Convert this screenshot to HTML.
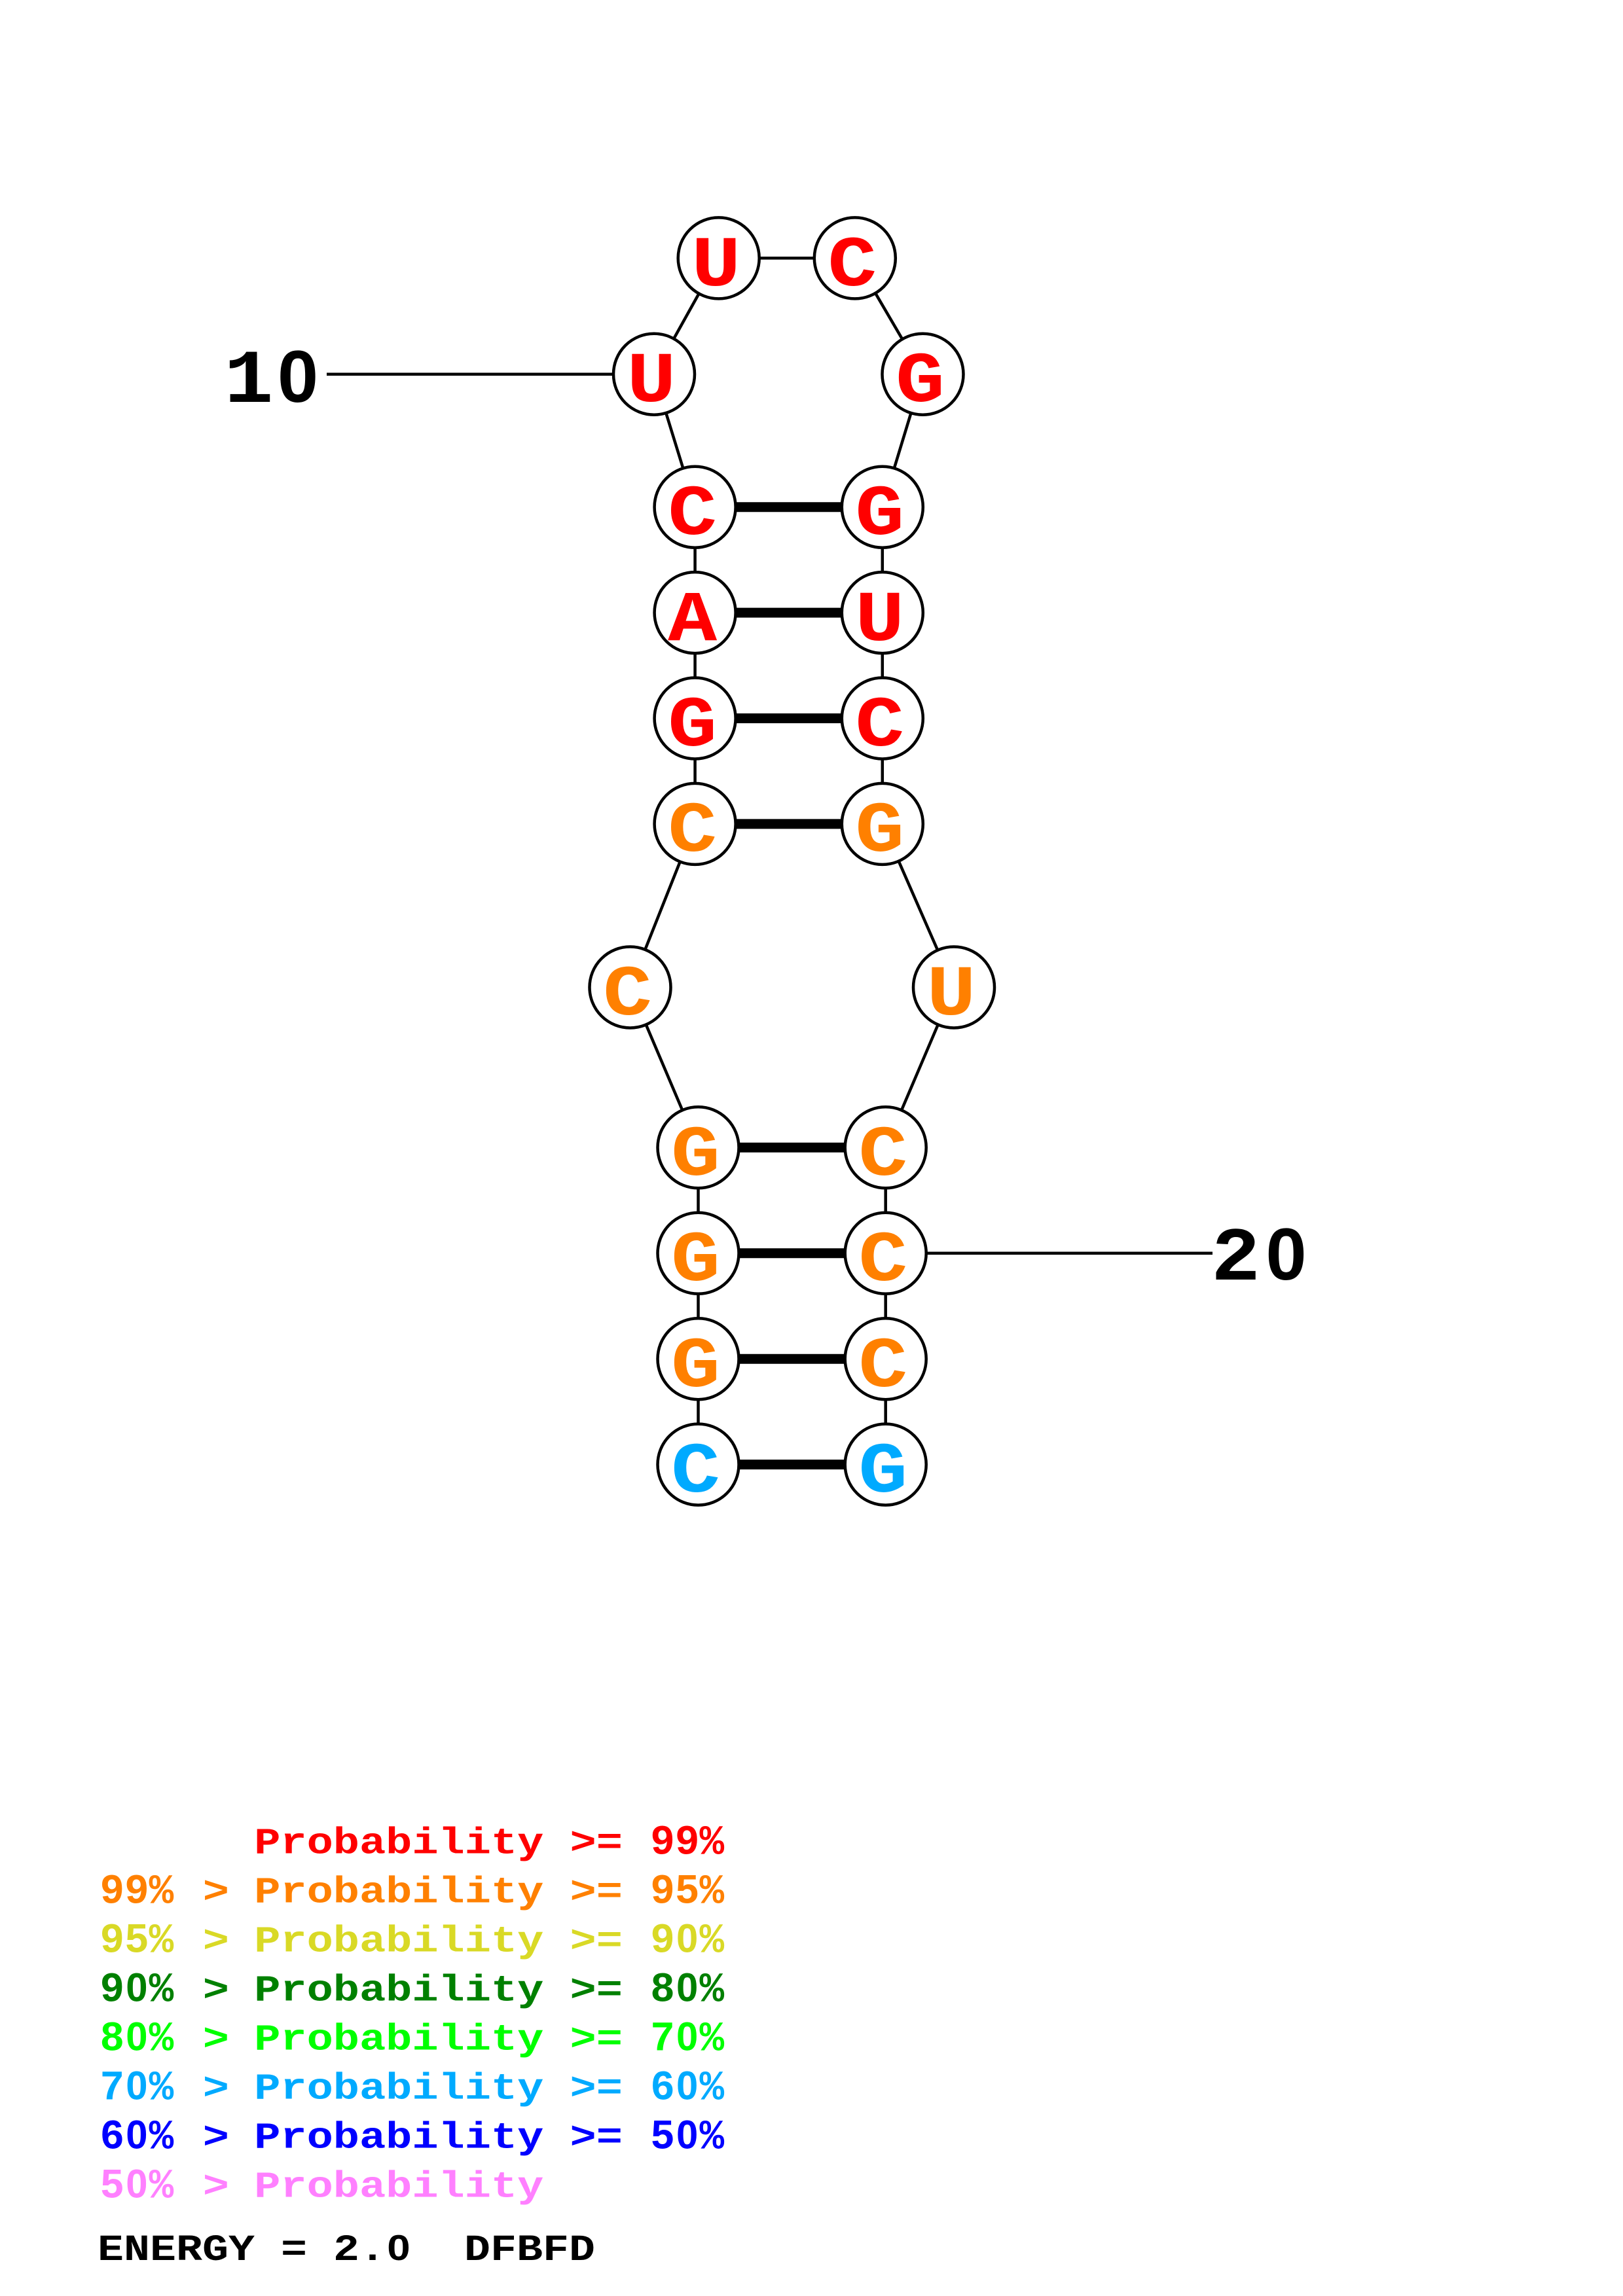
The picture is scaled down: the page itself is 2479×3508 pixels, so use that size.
<!DOCTYPE html>
<html><head><meta charset="utf-8"><style>
html,body{margin:0;padding:0;background:#fff}
svg{display:block}
text{font-family:"Liberation Mono",monospace;font-weight:bold;white-space:pre}
.n{font-size:125px;text-anchor:middle}
.s{font-family:"Liberation Sans",sans-serif;font-size:112px;text-anchor:middle}
.l{font-size:67px}
.z{font-family:"Liberation Sans",sans-serif;font-size:64px}
</style></head><body>
<svg xmlns="http://www.w3.org/2000/svg" width="2479" height="3508" viewBox="0 0 2479 3508">
<rect width="2479" height="3508" fill="#fff"/>
<g stroke="#000" stroke-width="4.5" fill="none">
<path d="M499 571.7H999L1097.7 394.4H1305.8L1409.5 571.7L1347.8 774.7V1258.9L1457 1508.5L1352.7 1753.3V2237.6"/>
<path d="M999 571.7L1061.6 774.7V1258.9L962.5 1508.5L1066.5 1753.3V2237.6"/>
<path d="M1352.7 1914.8H1852"/>
</g>
<g stroke="#000" stroke-width="15">
<path d="M1061.6 774.7H1347.8M1061.6 936.1H1347.8M1061.6 1097.5H1347.8M1061.6 1258.9H1347.8"/>
<path d="M1066.5 1753.3H1352.7M1066.5 1914.8H1352.7M1066.5 2076.2H1352.7M1066.5 2237.6H1352.7"/>
</g>
<g fill="#fff" stroke="#000" stroke-width="4.5">
<circle cx="1097.7" cy="394.4" r="62"/><circle cx="1305.8" cy="394.4" r="62"/>
<circle cx="999" cy="571.7" r="62"/><circle cx="1409.5" cy="571.7" r="62"/>
<circle cx="1061.6" cy="774.7" r="62"/><circle cx="1347.8" cy="774.7" r="62"/>
<circle cx="1061.6" cy="936.1" r="62"/><circle cx="1347.8" cy="936.1" r="62"/>
<circle cx="1061.6" cy="1097.5" r="62"/><circle cx="1347.8" cy="1097.5" r="62"/>
<circle cx="1061.6" cy="1258.9" r="62"/><circle cx="1347.8" cy="1258.9" r="62"/>
<circle cx="962.5" cy="1508.5" r="62"/><circle cx="1457" cy="1508.5" r="62"/>
<circle cx="1066.5" cy="1753.3" r="62"/><circle cx="1352.7" cy="1753.3" r="62"/>
<circle cx="1066.5" cy="1914.8" r="62"/><circle cx="1352.7" cy="1914.8" r="62"/>
<circle cx="1066.5" cy="2076.2" r="62"/><circle cx="1352.7" cy="2076.2" r="62"/>
<circle cx="1066.5" cy="2237.6" r="62"/><circle cx="1352.7" cy="2237.6" r="62"/>
</g>
<g fill="#ff0000">
<text class="n" transform="translate(1093.7 436) scale(1 .88)">U</text>
<text class="n" transform="translate(1301.8 436) scale(1 .88)">C</text>
<text class="n" transform="translate(995 613) scale(1 .88)">U</text>
<text class="n" transform="translate(1405.5 613) scale(1 .88)">G</text>
<text class="n" transform="translate(1057.6 816) scale(1 .88)">C</text>
<text class="n" transform="translate(1343.8 816) scale(1 .88)">G</text>
<text class="n" transform="translate(1057.6 978) scale(1 .88)">A</text>
<text class="n" transform="translate(1343.8 978) scale(1 .88)">U</text>
<text class="n" transform="translate(1057.6 1139) scale(1 .88)">G</text>
<text class="n" transform="translate(1343.8 1139) scale(1 .88)">C</text>
</g>
<g fill="#ff8000">
<text class="n" transform="translate(1057.6 1300) scale(1 .88)">C</text>
<text class="n" transform="translate(1343.8 1300) scale(1 .88)">G</text>
<text class="n" transform="translate(958.5 1550) scale(1 .88)">C</text>
<text class="n" transform="translate(1453 1550) scale(1 .88)">U</text>
<text class="n" transform="translate(1062.5 1795) scale(1 .88)">G</text>
<text class="n" transform="translate(1348.7 1795) scale(1 .88)">C</text>
<text class="n" transform="translate(1062.5 1956) scale(1 .88)">G</text>
<text class="n" transform="translate(1348.7 1956) scale(1 .88)">C</text>
<text class="n" transform="translate(1062.5 2118) scale(1 .88)">G</text>
<text class="n" transform="translate(1348.7 2118) scale(1 .88)">C</text>
</g>
<g fill="#00aaff">
<text class="n" transform="translate(1062.5 2279) scale(1 .88)">C</text>
<text class="n" transform="translate(1348.7 2279) scale(1 .88)">G</text>
</g>
<text class="n" fill="#000" transform="translate(380 614) scale(1 .93)">1</text>
<text class="s" fill="#000" x="455" y="614">0</text>
<text class="n" fill="#000" transform="translate(1887.5 1955) scale(1 .93)">2</text>
<text class="s" fill="#000" x="1964.5" y="1955">0</text>

<g fill="#ff0000">
<text class="l" transform="translate(388.2 2831.5) scale(1 .85)">Probability &gt;=</text>
<text class="l" transform="translate(993.3 2832.5) scale(.935 .95)">99%</text>
</g>
<g fill="#ff8000">
<text class="l" transform="translate(152.5 2907.5) scale(.935 .95)">99%</text>
<text class="l" transform="translate(309.8 2906.5) scale(1 .85)">&gt;</text>
<text class="l" transform="translate(388.2 2906.5) scale(1 .85)">Probability &gt;=</text>
<text class="l" transform="translate(993.3 2907.5) scale(.935 .95)">95%</text>
</g>
<g fill="#d9d926">
<text class="l" transform="translate(152.5 2982.5) scale(.935 .95)">95%</text>
<text class="l" transform="translate(309.8 2981.5) scale(1 .85)">&gt;</text>
<text class="l" transform="translate(388.2 2981.5) scale(1 .85)">Probability &gt;=</text>
<text class="l" transform="translate(993.3 2982.5) scale(.935 .95)">9<tspan class="z" dx="2.3">0</tspan><tspan dx="2.3">%</tspan></text>
</g>
<g fill="#008000">
<text class="l" transform="translate(152.5 3057.5) scale(.935 .95)">9<tspan class="z" dx="2.3">0</tspan><tspan dx="2.3">%</tspan></text>
<text class="l" transform="translate(309.8 3056.5) scale(1 .85)">&gt;</text>
<text class="l" transform="translate(388.2 3056.5) scale(1 .85)">Probability &gt;=</text>
<text class="l" transform="translate(993.3 3057.5) scale(.935 .95)">8<tspan class="z" dx="2.3">0</tspan><tspan dx="2.3">%</tspan></text>
</g>
<g fill="#00ff00">
<text class="l" transform="translate(152.5 3132.5) scale(.935 .95)">8<tspan class="z" dx="2.3">0</tspan><tspan dx="2.3">%</tspan></text>
<text class="l" transform="translate(309.8 3131.5) scale(1 .85)">&gt;</text>
<text class="l" transform="translate(388.2 3131.5) scale(1 .85)">Probability &gt;=</text>
<text class="l" transform="translate(993.3 3132.5) scale(.935 .95)">7<tspan class="z" dx="2.3">0</tspan><tspan dx="2.3">%</tspan></text>
</g>
<g fill="#00aaff">
<text class="l" transform="translate(152.5 3207.5) scale(.935 .95)">7<tspan class="z" dx="2.3">0</tspan><tspan dx="2.3">%</tspan></text>
<text class="l" transform="translate(309.8 3206.5) scale(1 .85)">&gt;</text>
<text class="l" transform="translate(388.2 3206.5) scale(1 .85)">Probability &gt;=</text>
<text class="l" transform="translate(993.3 3207.5) scale(.935 .95)">6<tspan class="z" dx="2.3">0</tspan><tspan dx="2.3">%</tspan></text>
</g>
<g fill="#0000ff">
<text class="l" transform="translate(152.5 3282.5) scale(.935 .95)">6<tspan class="z" dx="2.3">0</tspan><tspan dx="2.3">%</tspan></text>
<text class="l" transform="translate(309.8 3281.5) scale(1 .85)">&gt;</text>
<text class="l" transform="translate(388.2 3281.5) scale(1 .85)">Probability &gt;=</text>
<text class="l" transform="translate(993.3 3282.5) scale(.935 .95)">5<tspan class="z" dx="2.3">0</tspan><tspan dx="2.3">%</tspan></text>
</g>
<g fill="#ff80ff">
<text class="l" transform="translate(152.5 3357.5) scale(.935 .95)">5<tspan class="z" dx="2.3">0</tspan><tspan dx="2.3">%</tspan></text>
<text class="l" transform="translate(309.8 3356.5) scale(1 .85)">&gt;</text>
<text class="l" transform="translate(388.2 3356.5) scale(1 .85)">Probability</text>
</g>
<text class="l" fill="#000" transform="translate(149 3453) scale(.995 .85)">ENERGY = 2.<tspan class="z" dx="2.3">0</tspan><tspan dx="2.3">  DFBFD</tspan></text>
</svg>
</body></html>
